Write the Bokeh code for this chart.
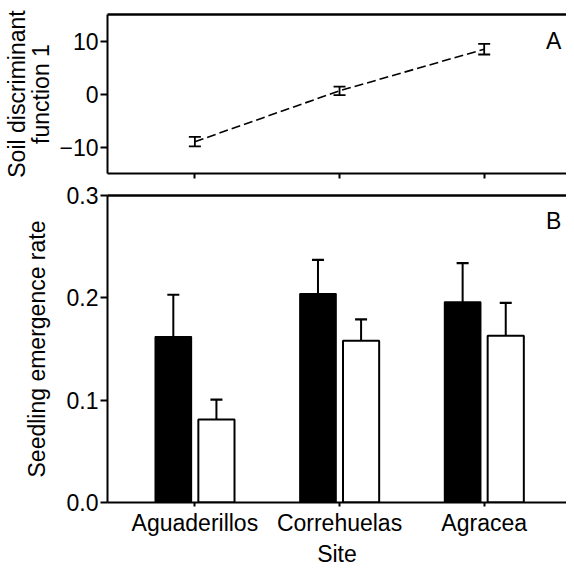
from bokeh.plotting import figure
from bokeh.models import (ColumnDataSource, Whisker, TeeHead, FixedTicker, LinearAxis,
                          Range1d, Label)
from bokeh.layouts import column
from bokeh.embed import file_html
from bokeh.resources import INLINE

# ---- data ----
sites = ["Aguaderillos", "Correhuelas", "Agracea"]
soil_mean = [-9.0, 0.6, 8.45]
soil_se = [0.9, 0.8, 1.0]
black_mean = [0.162, 0.204, 0.196]
black_se = [0.041, 0.033, 0.038]
white_mean = [0.081, 0.158, 0.163]
white_se = [0.0195, 0.021, 0.032]
soil_ticks = [-10, 0, 10]
rate_ticks = [0.0, 0.1, 0.2, 0.3]

FONT = "Liberation Sans"
FS = "23px"
pos = list(range(len(sites)))
XR = (-0.604, 2.569)
W = 566


def style_axes(p):
    for ax in p.axis:
        ax.axis_line_width = 2
        ax.axis_line_color = "black"
        ax.major_tick_line_width = 2
        ax.major_tick_line_color = "black"
        ax.minor_tick_line_color = None
        ax.major_tick_in = 0
        ax.major_label_text_font = FONT
        ax.major_label_text_font_size = FS
        ax.major_label_text_color = "black"
        ax.axis_label_text_font = FONT
        ax.axis_label_text_font_size = FS
        ax.axis_label_text_font_style = "normal"
        ax.axis_label_text_color = "black"


def add_top_border(p):
    top = LinearAxis(ticker=FixedTicker(ticks=[]))
    top.axis_line_width = 2.5
    top.axis_line_color = "black"
    top.major_tick_out = 0
    top.major_tick_in = 0
    top.major_label_standoff = 0
    top.major_label_text_font_size = "0px"
    top.minor_tick_line_color = None
    p.add_layout(top, "above")


# ---- panel A ----
p1 = figure(width=W, height=181, output_backend="svg", toolbar_location=None,
            x_range=Range1d(*XR), y_range=Range1d(-15, 15),
            min_border_left=97, min_border_right=0, min_border_top=14, min_border_bottom=8)
p1.outline_line_color = None
p1.grid.grid_line_color = None
src1 = ColumnDataSource(dict(x=pos, y=soil_mean,
                             lo=[m - s for m, s in zip(soil_mean, soil_se)],
                             hi=[m + s for m, s in zip(soil_mean, soil_se)]))
p1.line("x", "y", source=src1, line_color="black", line_width=1.6, line_dash="9 4")
p1.add_layout(Whisker(base="x", lower="lo", upper="hi", source=src1,
                      line_width=1.8, line_color="black",
                      upper_head=TeeHead(size=12, line_width=1.8),
                      lower_head=TeeHead(size=12, line_width=1.8)))
p1.yaxis.ticker = FixedTicker(ticks=soil_ticks)
p1.yaxis.major_label_overrides = {t: (str(t).replace("-", "\u2212")) for t in soil_ticks}
p1.yaxis.axis_label = "Soil discriminant\nfunction 1"
p1.xaxis.ticker = FixedTicker(ticks=pos)
style_axes(p1)
p1.yaxis.major_tick_out = 7
p1.yaxis.major_label_standoff = 2
p1.yaxis.axis_label_standoff = 2
p1.yaxis.axis_label_text_line_height = 0.95
p1.xaxis.major_tick_out = 5
p1.xaxis.major_label_standoff = 0
p1.xaxis.major_label_text_font_size = "0px"
add_top_border(p1)
p1.add_layout(Label(x=2.427, y=10, text="A", text_font=FONT, text_font_size="23px",
                    text_color="black", text_align="left", text_baseline="alphabetic"))

# ---- panel B ----
p2 = figure(width=W, height=388, output_backend="svg", toolbar_location=None,
            x_range=Range1d(*XR), y_range=Range1d(0, 0.3),
            min_border_left=97, min_border_right=0, min_border_top=14, min_border_bottom=67)
p2.outline_line_color = None
p2.grid.grid_line_color = None
off = 0.149
bw = 0.25
xb = [x - off for x in pos]
xw = [x + off for x in pos]
srcb = ColumnDataSource(dict(x=xb, top=black_mean,
                             hi=[m + s for m, s in zip(black_mean, black_se)]))
srcw = ColumnDataSource(dict(x=xw, top=white_mean,
                             hi=[m + s for m, s in zip(white_mean, white_se)]))
p2.vbar(x="x", top="top", bottom=0, width=bw, source=srcb,
        fill_color="black", line_color="black", line_width=1.5)
p2.vbar(x="x", top="top", bottom=0, width=bw, source=srcw,
        fill_color="white", line_color="black", line_width=2)
for s in (srcb, srcw):
    p2.add_layout(Whisker(base="x", lower="top", upper="hi", source=s,
                          line_width=2, line_color="black",
                          upper_head=TeeHead(size=12, line_width=2.2),
                          lower_head=None))
p2.yaxis.ticker = FixedTicker(ticks=rate_ticks)
p2.yaxis.major_label_overrides = {t: f"{t:.1f}" for t in rate_ticks}
p2.yaxis.axis_label = "Seedling emergence rate"
p2.xaxis.ticker = FixedTicker(ticks=pos)
p2.xaxis.major_label_overrides = {i: s for i, s in zip(pos, sites)}
p2.xaxis.axis_label = "Site"
style_axes(p2)
p2.yaxis.major_tick_out = 7
p2.yaxis.major_label_standoff = 2
p2.yaxis.axis_label_standoff = 14
p2.xaxis.major_tick_out = 4
p2.xaxis.major_label_standoff = 3
p2.xaxis.axis_label_standoff = 2
add_top_border(p2)
p2.add_layout(Label(x=2.427, y=0.275, text="B", text_font=FONT, text_font_size="23px",
                    text_color="black", text_align="left", text_baseline="alphabetic"))

layout = column(p1, p2, spacing=0)
open("out.html", "w").write(file_html(layout, INLINE))
